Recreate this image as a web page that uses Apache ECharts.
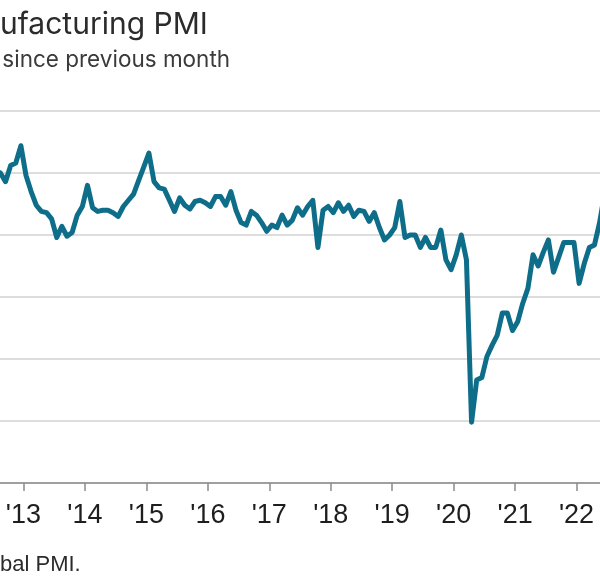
<!DOCTYPE html>
<html>
<head>
<meta charset="utf-8">
<script src="https://cdn.jsdelivr.net/npm/echarts@6/dist/echarts.min.js"></script>
<style>
  html, body { margin: 0; padding: 0; background: #fff; overflow: hidden; width: 600px; height: 579px; }
  #chart { width: 676px; height: 579px; margin-left: -38px; }
</style>
</head>
<body>
<div id="chart"></div>
<script>
// ---- data (monthly index values) ----
const titleText = 'ufacturing PMI';
const subtitleText = ' since previous month';
const footerText = 'bal PMI.';

const pmi2012 = [54.6, 55.0, 54.3, 55.6, 55.8, 57.2];               // Jul-Dec
const pmi2013 = [54.8, 53.5, 52.4, 51.9, 51.8, 51.3, 49.8, 50.7, 49.9, 50.2, 51.6, 52.3];
const pmi2014 = [54.0, 52.2, 51.9, 52.0, 52.0, 51.8, 51.5, 52.3, 52.8, 53.3, 54.4, 55.5];
const pmi2015 = [56.6, 54.3, 53.8, 53.7, 52.8, 51.9, 53.0, 52.4, 52.1, 52.7, 52.8, 52.6];
const pmi2016 = [52.3, 53.1, 53.1, 52.4, 53.5, 52.0, 51.0, 50.8, 51.9, 51.6, 51.0, 50.3];
const pmi2017 = [50.8, 50.6, 51.6, 50.8, 51.2, 52.2, 51.6, 52.3, 52.8, 49.0, 52.0, 52.3];
const pmi2018 = [51.8, 52.6, 51.9, 52.4, 51.5, 52.0, 51.9, 51.1, 51.8, 50.6, 49.6, 50.0];
const pmi2019 = [50.6, 52.7, 49.8, 50.0, 50.0, 49.0, 49.8, 49.0, 49.0, 50.4, 48.0, 47.2];
const pmi2020 = [48.4, 50.0, 48.0, 34.9, 38.3, 38.5, 40.2, 41.1, 41.9, 43.7, 43.7, 42.3];
const pmi2021 = [43.0, 44.5, 45.7, 48.4, 47.5, 48.6, 49.6, 47.0, 48.2, 49.4, 49.4, 49.4];
const pmi2022 = [46.1, 47.7, 49.0, 49.2, 51.0, 53.4, 53.8];                // Jan-Jul

const yearSeries = [
  { year: 2012, firstMonth: 7, values: pmi2012 },
  { year: 2013, firstMonth: 1, values: pmi2013 },
  { year: 2014, firstMonth: 1, values: pmi2014 },
  { year: 2015, firstMonth: 1, values: pmi2015 },
  { year: 2016, firstMonth: 1, values: pmi2016 },
  { year: 2017, firstMonth: 1, values: pmi2017 },
  { year: 2018, firstMonth: 1, values: pmi2018 },
  { year: 2019, firstMonth: 1, values: pmi2019 },
  { year: 2020, firstMonth: 1, values: pmi2020 },
  { year: 2021, firstMonth: 1, values: pmi2021 },
  { year: 2022, firstMonth: 1, values: pmi2022 }
];

const yearTickLabels = { 2013: "'13", 2014: "'14", 2015: "'15", 2016: "'16", 2017: "'17",
  2018: "'18", 2019: "'19", 2020: "'20", 2021: "'21", 2022: "'22", 2023: "'23" };

// build [time, value] pairs; each month plotted at its middle
const lineData = [];
yearSeries.forEach(ys => {
  ys.values.forEach((v, i) => {
    const m = ys.firstMonth + i;          // 1..12
    lineData.push([ys.year + (m - 0.5) / 12, v]);
  });
});

const OFFSET = 38;   // chart canvas starts 38px left of the visible window

const chart = echarts.init(document.getElementById('chart'), null, { renderer: 'canvas' });

const option = {
  animation: false,
  backgroundColor: '#ffffff',
  grid: { left: 0, right: 0, top: 111, bottom: 96, containLabel: false },
  xAxis: {
    type: 'value',
    min: 2012, max: 2023, interval: 1,
    axisLine: { show: true, lineStyle: { color: '#8a8a8a', width: 1.5 } },
    axisTick: { show: true, length: 8, lineStyle: { color: '#8a8a8a', width: 1.5 } },
    axisLabel: {
      show: true, margin: 19, color: '#1e1e1e',
      fontFamily: 'Liberation Sans, Arial, sans-serif', fontSize: 27,
      showMinLabel: false, showMaxLabel: false,
      formatter: v => yearTickLabels[Math.round(v)] || ''
    },
    splitLine: { show: false }
  },
  yAxis: {
    type: 'value', min: 30, max: 60, interval: 5,
    axisLine: { show: false }, axisTick: { show: false },
    axisLabel: { show: false },
    splitLine: { show: true, lineStyle: { color: '#d2d2d2', width: 1.5 } }
  },
  series: [{
    type: 'line',
    data: lineData,
    showSymbol: false,
    symbol: 'none',
    lineStyle: { color: '#0e6e8a', width: 5, join: 'round', cap: 'round' },
    clip: true
  }],
  graphic: [
    { type: 'text', left: OFFSET + 0, top: 10,
      style: { text: titleText, fill: '#2b2b2b', font: '30px Inter, "Open Sans", sans-serif' } },
    { type: 'text', left: OFFSET - 4, top: 49,
      style: { text: subtitleText, fill: '#3a3a3a', font: '22.5px Inter, "Open Sans", sans-serif' } },
    { type: 'text', left: OFFSET + 0, top: 554,
      style: { text: footerText, fill: '#2b2b2b', font: '22px "Liberation Sans", Arial, sans-serif' } }
  ]
};
chart.setOption(option);
</script>
</body>
</html>
